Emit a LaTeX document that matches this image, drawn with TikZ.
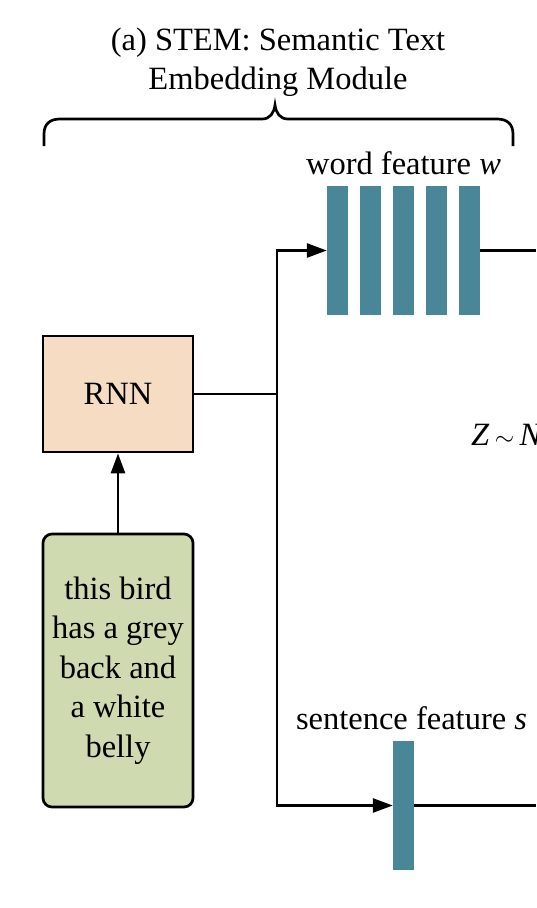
\documentclass[tikz,border=0pt]{standalone}
\usepackage{fontspec}
\setmainfont{Liberation Serif}
\usetikzlibrary{arrows.meta,positioning}
\definecolor{barteal}{RGB}{72,134,152}
\definecolor{rnnpeach}{RGB}{247,220,196}
\definecolor{txtgreen}{RGB}{208,218,176}
\tikzset{
  featbar/.style={fill=barteal, minimum width=21pt, minimum height=129pt, inner sep=0pt},
  conn/.style={line width=2.7pt},
  connarr/.style={line width=2.7pt, -{Triangle[length=20pt,width=14pt]}},
  lbl/.style={font=\fontsize{32.5}{39.5}\selectfont, align=center, inner sep=0pt},
  boxed/.style={draw, line width=2.7pt, lbl, minimum width=150pt}
}
\begin{document}
\begin{tikzpicture}[x=1pt,y=-1pt]
    \useasboundingbox (0,0) rectangle (536,908);
    \clip (0,0) rectangle (536,908);
    \node [lbl] (title) at (278,62) {(a) STEM: Semantic Text\\Embedding Module};
    \draw [conn] (44,146)--(44,134) .. controls (44,124) and (50,119) .. (60,119)--(262,119)
      .. controls (270,119) and (274,113) .. (275,105) .. controls (276,113) and (280,119) .. (288,119)
      --(497,119) .. controls (507,119) and (513,124) .. (513,134)--(513,146);
    \node [boxed, fill=rnnpeach, minimum height=116pt] (rnn) at (118,394) {RNN};
    \node [boxed, fill=txtgreen, rounded corners=9pt, minimum height=273pt] (caption) at (118,670.5)
      {this bird\\has a grey\\back and\\a white\\belly};
    \foreach \i in {1,...,5}
      \node [featbar] (w\i) at ({337.5+33*(\i-1)},250.5) {};
    \node [lbl, above=11pt of w3] (wlabel) {word feature \textit{w}};
    \node [featbar] (sbar) at (403.5,805.5) {};
    \node [lbl, above=11pt of sbar, xshift=8pt] (slabel) {sentence feature \textit{s}};
    \node [lbl, anchor=west] (noise) at (471,435) {\textit{Z}\,$\sim$\,\textit{N}};
    \coordinate (split) at (277,394);
    \coordinate (wout) at (536,250.5);
    \coordinate (sout) at (536,805.5);
    \draw [connarr] (caption) -- (rnn);
    \draw [conn] (rnn) -- (split);
    \draw [connarr] (split) |- (w1);
    \draw [connarr] (split) |- (sbar);
    \draw [conn] (w5) -- (wout);
    \draw [conn] (sbar) -- (sout);
  \end{tikzpicture}
\end{document}
